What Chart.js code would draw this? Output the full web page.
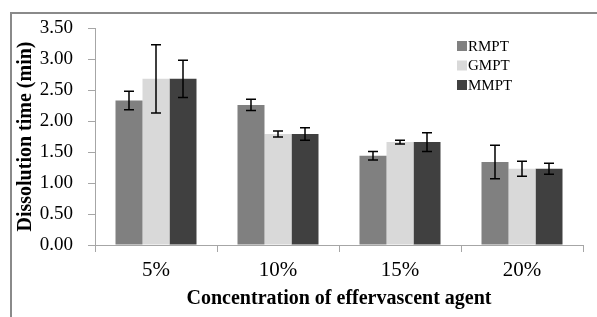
<!DOCTYPE html>
<html>
<head>
<meta charset="utf-8">
<script src="https://cdn.jsdelivr.net/npm/chart.js@4/dist/chart.umd.min.js"></script>
<style>
  html, body { margin: 0; padding: 0; background: #fff; }
  #wrap { width: 597px; height: 317px; position: relative; }
</style>
</head>
<body>
<div id="wrap"><canvas id="c" width="597" height="317"></canvas></div>
<script>
const categories = ['5%', '10%', '15%', '20%'];
const seriesNames = ['RMPT', 'GMPT', 'MMPT'];
const rmpt = [2.33, 2.26, 1.44, 1.34];
const gmpt = [2.68, 1.79, 1.66, 1.23];
const mmpt = [2.68, 1.79, 1.66, 1.23];
const rmptErr = [0.15, 0.09, 0.07, 0.27];
const gmptErr = [0.55, 0.05, 0.03, 0.12];
const mmptErr = [0.30, 0.10, 0.15, 0.09];
const yTickLabels = ['0.00', '0.50', '1.00', '1.50', '2.00', '2.50', '3.00', '3.50'];
const colors = ['#808080', '#d9d9d9', '#404040'];

const values = [rmpt, gmpt, mmpt];
const errors = [rmptErr, gmptErr, mmptErr];

const framePlugin = {
  id: 'frame',
  beforeDraw(chart) {
    const ctx = chart.ctx;
    ctx.save();
    ctx.strokeStyle = '#8a8a8a';
    ctx.lineWidth = 2;
    ctx.beginPath();
    ctx.moveTo(11, 317);
    ctx.lineTo(11, 13);
    ctx.lineTo(597, 13);
    ctx.stroke();
    ctx.restore();
  }
};

const errorBarPlugin = {
  id: 'errorBars',
  afterDatasetsDraw(chart) {
    const ctx = chart.ctx;
    const yScale = chart.scales.y;
    ctx.save();
    ctx.strokeStyle = '#000';
    ctx.lineWidth = 1.5;
    chart.data.datasets.forEach((ds, di) => {
      const meta = chart.getDatasetMeta(di);
      meta.data.forEach((bar, i) => {
        const v = ds.data[i];
        const e = errors[di][i];
        const yTop = yScale.getPixelForValue(v + e);
        const yBot = yScale.getPixelForValue(v - e);
        const x = bar.x;
        const cap = 5;
        ctx.beginPath();
        ctx.moveTo(x, yTop); ctx.lineTo(x, yBot);
        ctx.moveTo(x - cap, yTop); ctx.lineTo(x + cap, yTop);
        ctx.moveTo(x - cap, yBot); ctx.lineTo(x + cap, yBot);
        ctx.stroke();
      });
    });
    ctx.restore();
  }
};

const legendPlugin = {
  id: 'customLegend',
  afterDraw(chart) {
    const ctx = chart.ctx;
    ctx.save();
    ctx.font = '15px "Liberation Serif", "Times New Roman", serif';
    ctx.textBaseline = 'middle';
    ctx.textAlign = 'left';
    const x0 = 457, y0 = 46, dy = 19.5, sq = 10;
    chart.data.datasets.forEach((ds, i) => {
      const yc = y0 + i * dy;
      ctx.fillStyle = ds.backgroundColor;
      ctx.fillRect(x0, yc - sq / 2, sq, sq);
      ctx.fillStyle = '#000';
      ctx.fillText(ds.label, x0 + 11, yc + 1);
    });
    ctx.restore();
  }
};

new Chart(document.getElementById('c'), {
  type: 'bar',
  data: {
    labels: categories,
    datasets: seriesNames.map((name, i) => ({
      label: name,
      data: values[i],
      backgroundColor: colors[i],
      borderWidth: 0,
      categoryPercentage: 0.664,
      barPercentage: 1.0
    }))
  },
  options: {
    responsive: false,
    animation: false,
    devicePixelRatio: 1,
    layout: { padding: { top: 28, right: 14, left: 0, bottom: 0 } },
    plugins: {
      legend: { display: false },
      tooltip: { enabled: false }
    },
    scales: {
      x: {
        afterFit(scale) { scale.height = 72; },
        grid: {
          offset: true,
          drawOnChartArea: false,
          drawTicks: true,
          tickLength: 7,
          color: '#a6a6a6',
          lineWidth: 1
        },
        border: { color: '#a6a6a6', width: 1 },
        ticks: {
          color: '#000',
          padding: 6,
          font: { family: '"Liberation Serif", "Times New Roman", serif', size: 21 }
        },
        title: {
          display: true,
          text: 'Concentration of effervascent agent',
          color: '#000',
          padding: { top: 0, bottom: 6 },
          font: { family: '"Liberation Serif", "Times New Roman", serif', size: 20, weight: 'bold' }
        }
      },
      y: {
        min: 0,
        max: 3.5,
        afterFit(scale) { scale.width = 95; },
        grid: {
          drawOnChartArea: false,
          drawTicks: true,
          tickLength: 7,
          color: '#a6a6a6'
        },
        border: { color: '#a6a6a6', width: 1 },
        ticks: {
          stepSize: 0.5,
          color: '#000',
          padding: 15,
          font: { family: '"Liberation Serif", "Times New Roman", serif', size: 19 },
          callback: (v, i) => yTickLabels[i]
        },
        title: {
          display: true,
          text: 'Dissolution time (min)',
          color: '#000',
          padding: { top: 14, bottom: 0 },
          font: { family: '"Liberation Serif", "Times New Roman", serif', size: 20, weight: 'bold' }
        }
      }
    }
  },
  plugins: [framePlugin, errorBarPlugin, legendPlugin]
});
</script>
</body>
</html>
